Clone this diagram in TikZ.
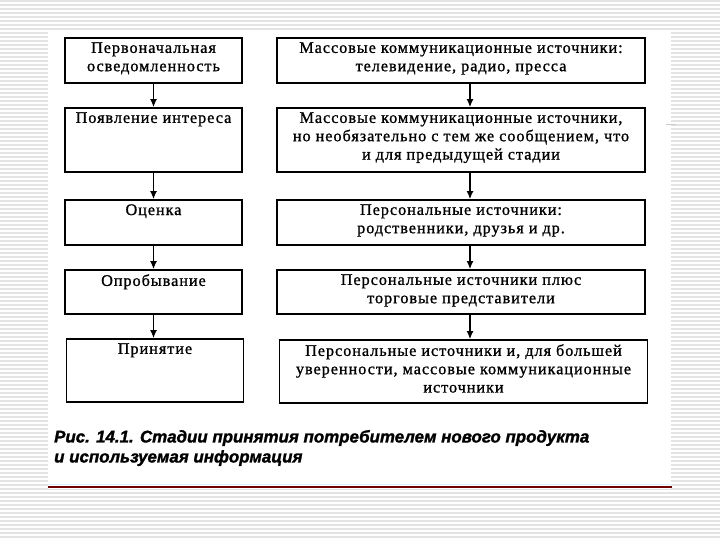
\documentclass[tikz,border=0pt]{standalone}
\usepackage{fontspec}
\setmainfont{Liberation Serif}[LetterSpace=6, FakeBold=1]
\newfontfamily\capfont{Liberation Sans}[FakeBold=1.5]
\usetikzlibrary{arrows.meta}

\begin{document}
\begin{tikzpicture}[x=1pt, y=-1pt,
  stage/.style={draw, line width=1.8pt, minimum width=177pt, inner sep=0pt},
  src/.style={stage, minimum width=368pt},
  txt/.style={align=center, font=\fontsize{16.2}{18.3}\selectfont, inner sep=0pt, anchor=north, yshift=-5pt},
  arr/.style={-{Latex[length=8pt,width=7pt]}, line width=1.3pt}]
% slide background
\useasboundingbox (0,0) rectangle (720,540);
\fill[white] (0,0) rectangle (720,540);
\foreach \y in {1,5,...,539}
  \draw[gray!22, line width=1.6pt] (0,\y) -- (720,\y);
\fill[white] (48,31) rectangle (671,489);
\draw[cyan!15, line width=1pt] (48,484) -- (672,484);
\draw[red!45!black, line width=1.2pt] (48,487) -- (672,487);
\draw[gray!40, line width=1pt] (666,125) -- (676,125);
% stages of adoption
\node[stage, minimum height=45pt, label={[txt]north:{Первоначальная\\осведомленность}}] (st1) at (153.5,60.5) {};
\node[stage, minimum height=64pt, label={[txt]north:{Появление интереса}}] (st2) at (153.5,140) {};
\node[stage, minimum height=45pt, label={[txt]north:{Оценка}}] (st3) at (153.5,222.5) {};
\node[stage, minimum height=44pt, label={[txt]north:{Опробывание}}] (st4) at (153.5,292) {};
\node[stage, minimum height=63pt, label={[txt]north:{Принятие}}] (st5) at (155,370.5) {};
% sources of information
\node[src, minimum height=45pt, label={[txt]north:{Массовые коммуникационные источники:\\телевидение, радио, пресса}}] (so1) at (461,60.5) {};
\node[src, minimum height=64pt, label={[txt]north:{Массовые коммуникационные источники,\\но необязательно с тем же сообщением, что\\и для предыдущей стадии}}] (so2) at (461,140) {};
\node[src, minimum height=45pt, label={[txt]north:{Персональные источники:\\родственники, друзья и др.}}] (so3) at (461,222.5) {};
\node[src, minimum height=44pt, label={[txt]north:{Персональные источники плюс\\торговые представители}}] (so4) at (461,292) {};
\node[src, minimum height=63pt, label={[txt]north:{Персональные источники и, для большей\\уверенности, массовые коммуникационные\\источники}}] (so5) at (463.5,371.5) {};
% arrows
\foreach \a/\b in {st1/st2, st2/st3, st3/st4, st4/st5}
  \draw[arr] (\a.south) -- (\a.south |- \b.north);
\foreach \a/\b in {so1/so2, so2/so3, so3/so4, so4/so5}
  \draw[arr] ([xshift=9pt]\a.south) -- ([xshift=9pt]\a.south |- \b.north);
% caption
\node[anchor=west, align=left, inner sep=0pt, font=\capfont\bfseries\itshape\fontsize{16.9}{20}\selectfont] (cap) at (54,448) {Рис. 14.1. Стадии принятия потребителем нового продукта\\и используемая информация};
\end{tikzpicture}
\end{document}
